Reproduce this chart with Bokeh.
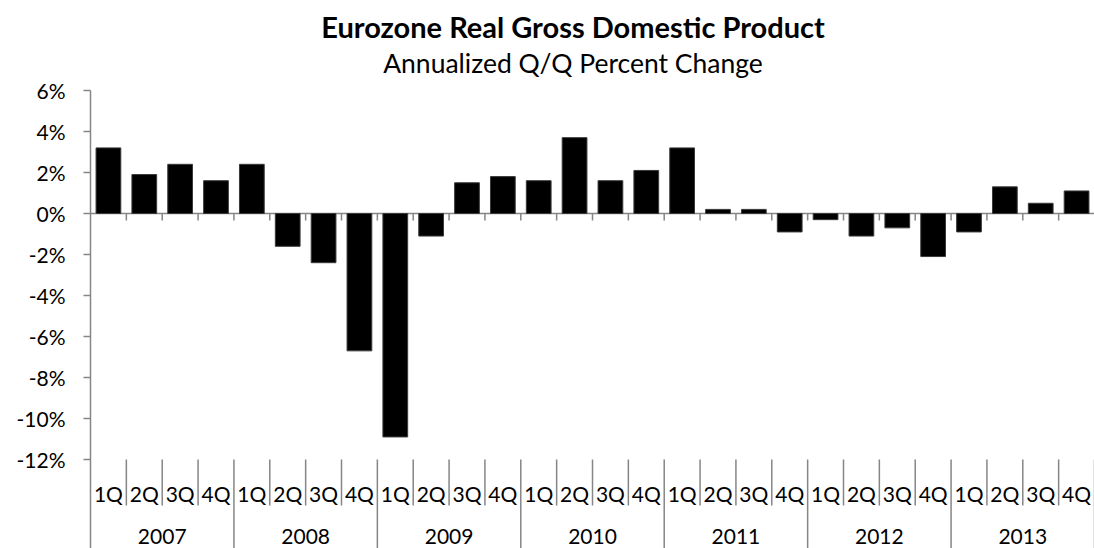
from bokeh.plotting import figure
from bokeh.models import Range1d, FixedTicker, CustomJSTickFormatter, ColumnDataSource
from bokeh.core.properties import value
from bokeh.embed import file_html
from bokeh.resources import INLINE

# ---- data ----
years = ["2007", "2008", "2009", "2010", "2011", "2012", "2013"]
quarters = ["1Q", "2Q", "3Q", "4Q"]
gdp = [3.2, 1.9, 2.4, 1.6,
       2.4, -1.6, -2.4, -6.7,
       -10.9, -1.1, 1.5, 1.8,
       1.6, 3.7, 1.6, 2.1,
       3.2, 0.2, 0.2, -0.9,
       -0.3, -1.1, -0.7, -2.1,
       -0.9, 1.3, 0.5, 1.1]
y_ticks = [-12, -10, -8, -6, -4, -2, 0, 2, 4, 6]
title = "Eurozone Real Gross Domestic Product"
subtitle = "Annualized Q/Q Percent Change"

FONT = "Lato"
AXIS_GREY = "#868686"

# ---- layout (pixels) ----
W, H = 1094, 548
LEFT = 90
PLOT_TOP_PX, PLOT_BOTTOM_PX = 90, 459
px_per_unit = (PLOT_BOTTOM_PX - PLOT_TOP_PX) / (y_ticks[-1] - y_ticks[0])
y_max = y_ticks[-1] + PLOT_TOP_PX / px_per_unit
y_min = y_ticks[-1] - (H - PLOT_TOP_PX) / px_per_unit

def py(v):
    """page pixel row -> data value"""
    return y_ticks[-1] - (v - PLOT_TOP_PX) / px_per_unit

n = len(gdp)
px_per_cat = (W - LEFT) / n

def px(v):
    """page pixel column -> data x"""
    return (v - LEFT) / px_per_cat

p = figure(width=W, height=H, output_backend="svg", toolbar_location=None,
           x_range=Range1d(0, n), y_range=Range1d(y_min, y_max),
           x_axis_location=None, min_border_left=LEFT, min_border_top=0,
           min_border_right=0, min_border_bottom=0)
p.outline_line_color = None
p.grid.visible = False
p.background_fill_color = "white"

# y axis
ax = p.yaxis[0]
ax.ticker = FixedTicker(ticks=y_ticks)
ax.bounds = (y_min, y_ticks[-1])
ax.formatter = CustomJSTickFormatter(code="return tick + '%';")
ax.axis_line_color = AXIS_GREY
ax.axis_line_width = 1.5
ax.major_tick_line_color = AXIS_GREY
ax.major_tick_line_width = 1.5
ax.major_tick_out = 7
ax.major_tick_in = 0
ax.minor_tick_line_color = None
ax.major_label_standoff = 18
ax.major_label_text_font = FONT
ax.major_label_text_font_size = "21px"
ax.major_label_text_color = "black"

# zero line with boundary ticks
zero_tick = 7 / px_per_unit
p.segment(x0=[0], y0=[0], x1=[n], y1=[0], line_color=AXIS_GREY, line_width=1.5)
p.segment(x0=list(range(1, n)), y0=[0] * (n - 1), x1=list(range(1, n)),
          y1=[-zero_tick] * (n - 1), line_color=AXIS_GREY, line_width=1.5)

# bars
xs = [i + 0.5 for i in range(n)]
src = ColumnDataSource(dict(x=xs, top=gdp))
p.vbar(x="x", top="top", bottom=0, width=0.69, source=src,
       fill_color="black", line_color="#3a3a3a", line_width=1)

# two-level category axis below the -12% line
q_div_end = py(505)
bounds_q = [i for i in range(1, n + 1) if i % 4 != 0]
p.segment(x0=bounds_q, y0=[y_ticks[0]] * len(bounds_q), x1=bounds_q,
          y1=[q_div_end] * len(bounds_q), line_color=AXIS_GREY, line_width=1.5)
bounds_y = [i for i in range(4, n + 1, 4)]
p.segment(x0=bounds_y, y0=[y_ticks[0]] * len(bounds_y), x1=bounds_y,
          y1=[y_min] * len(bounds_y), line_color=AXIS_GREY, line_width=1.5)

q_labels = [quarters[i % 4] for i in range(n)]
p.text(x=xs, y=[py(492.5)] * n, text=q_labels, text_align="center",
       text_baseline="middle", text_font=value(FONT), text_font_size="21px",
       text_color="black")
yr_x = [4 * k + 2 for k in range(len(years))]
p.text(x=yr_x, y=[py(536)] * len(years), text=years, text_align="center",
       text_baseline="middle", text_font=value(FONT), text_font_size="21px",
       text_color="black")

# titles
cx = px(572.5)
p.text(x=[cx], y=[py(26)], text=[title], text_align="center",
       text_baseline="middle", text_font=value(FONT), text_font_size="29px",
       text_font_style="bold", text_color="black")
p.text(x=[cx], y=[py(62.5)], text=[subtitle], text_align="center",
       text_baseline="middle", text_font=value(FONT), text_font_size="26.5px",
       text_color="black")

open("out.html", "w").write(file_html(p, INLINE))
